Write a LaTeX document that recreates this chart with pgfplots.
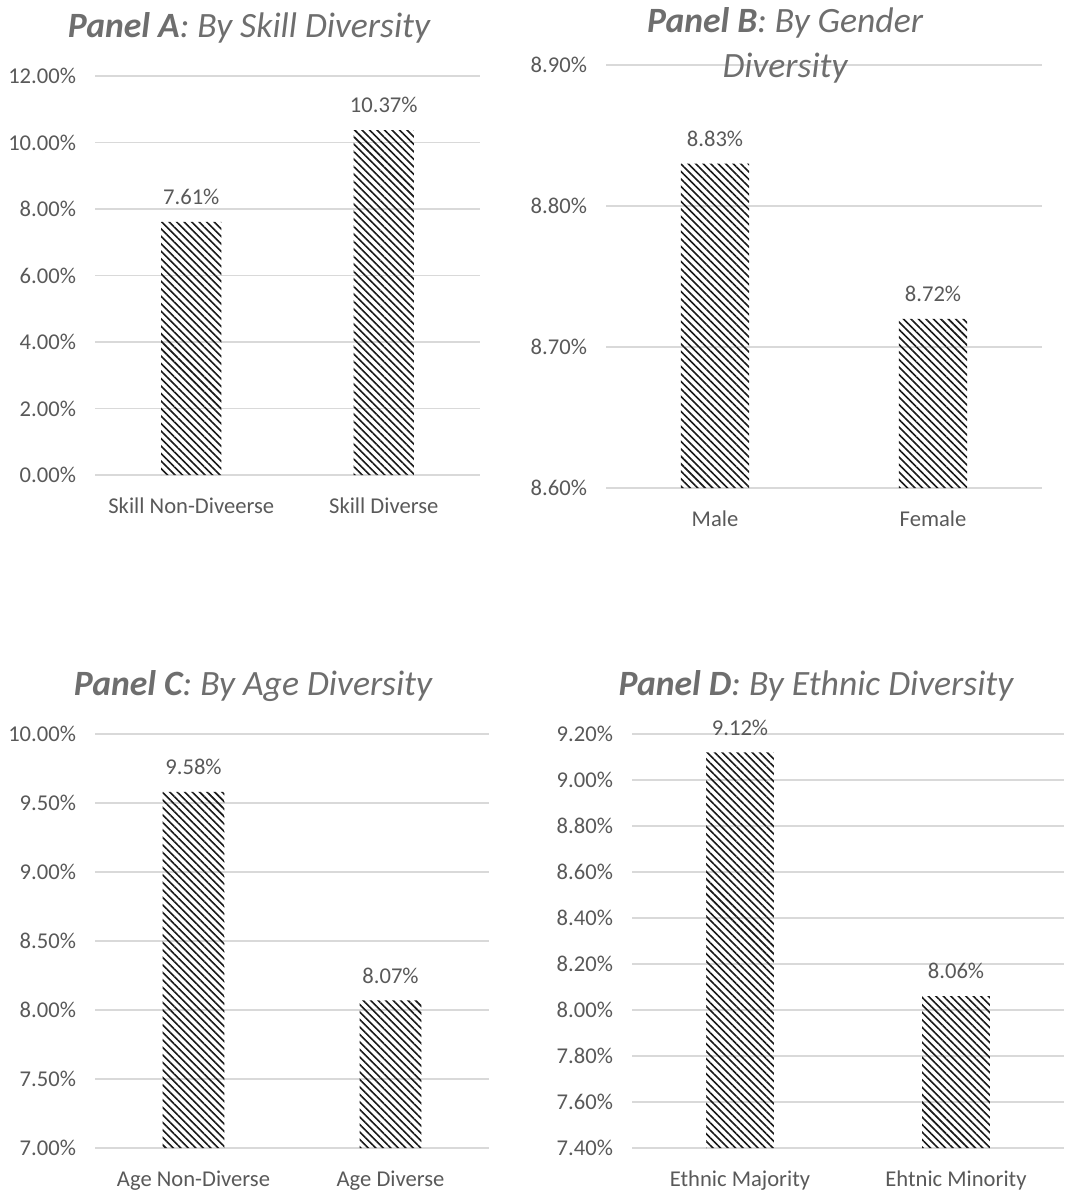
\documentclass[border=0pt]{standalone}
\usepackage{pgfplots}
\pgfplotsset{compat=1.18}
\usepackage{fontspec}
\setmainfont{Carlito}
\usetikzlibrary{patterns.meta}

\definecolor{txtgray}{HTML}{595959}
\definecolor{titlegray}{HTML}{6E6E6E}
\definecolor{gridgray}{HTML}{D9D9D9}

\newcommand{\pct}[1]{\pgfmathprintnumber[fixed,fixed zerofill,precision=2,assume math mode=true]{#1}\%}

\pgfplotsset{
  panel/.style={
    scale only axis,
    ybar,
    bar width=0.3135,
    xmin=-0.5, xmax=1.5,
    xtick={0,1},
    axis line style={draw=none},
    tick style={draw=none},
    ymajorgrids,
    grid style={color=gridgray, line width=0.65pt},
    ticklabel style={font=\fontsize{11.3}{13}\selectfont, text=txtgray},
    yticklabel={\pct{\tick}},
    yticklabel style={xshift=-6pt},
    xticklabel style={yshift=-3.5pt},
    point meta=y,
    nodes near coords={\pct{\pgfplotspointmeta}},
    nodes near coords style={font=\fontsize{11.3}{13}\selectfont, text=txtgray, anchor=south, yshift=5pt},
  },
  hatchbar/.style={draw=none, pattern={Lines[angle=-45,distance=2.65pt,line width=0.8pt]}, pattern color=black!90},
}

\newcommand{\paneltitle}[2]{{\bfseries\itshape #1}{\itshape: #2}}

\begin{document}
\begin{tikzpicture}
\useasboundingbox (0,0) rectangle (533.5pt,-596pt);

% Panel A: skill diversity
\begin{axis}[panel,
  at={(47.5pt,-237.5pt)}, anchor=south west,
  width=192.5pt, height=199.5pt,
  ymin=0, ymax=12, ytick={0,2,...,12},
  xticklabels={Skill Non-Diveerse, Skill Diverse}]
\addplot[hatchbar] coordinates {(0,7.61) (1,10.37)};
\end{axis}

% Panel B: gender diversity
\begin{axis}[panel,
  at={(303pt,-244pt)}, anchor=south west,
  width=218pt, height=211.5pt,
  ymin=8.6, ymax=8.9, ytick={8.6,8.7,8.8,8.9},
  xticklabels={Male, Female}]
\addplot[hatchbar] coordinates {(0,8.83) (1,8.72)};
\end{axis}

% Panel C: age diversity
\begin{axis}[panel,
  at={(47.5pt,-574pt)}, anchor=south west,
  width=197pt, height=207pt,
  ymin=7, ymax=10, ytick={7,7.5,...,10},
  xticklabels={Age Non-Diverse, Age Diverse}]
\addplot[hatchbar] coordinates {(0,9.58) (1,8.07)};
\end{axis}

% Panel D: ethnic diversity
\begin{axis}[panel,
  at={(316pt,-574pt)}, anchor=south west,
  width=216pt, height=207pt,
  ymin=7.4, ymax=9.2, ytick={7.4,7.6,...,9.2},
  xticklabels={Ethnic Majority, Ehtnic Minority}]
\addplot[hatchbar] coordinates {(0,9.12) (1,8.06)};
\end{axis}

% Panel titles
\begin{scope}[every node/.style={font=\fontsize{17.8}{20}\selectfont, text=titlegray, inner sep=0pt}]
\node at (124.5pt,-14pt) {\paneltitle{Panel A}{By Skill Diversity}};
\node at (392.5pt,-11.5pt) {\paneltitle{Panel B}{By Gender}};
\node at (392.5pt,-34pt) {\itshape Diversity};
\node at (126.5pt,-343pt) {\paneltitle{Panel C}{By Age Diversity}};
\node at (408pt,-343pt) {\paneltitle{Panel D}{By Ethnic Diversity}};
\end{scope}
\end{tikzpicture}
\end{document}
